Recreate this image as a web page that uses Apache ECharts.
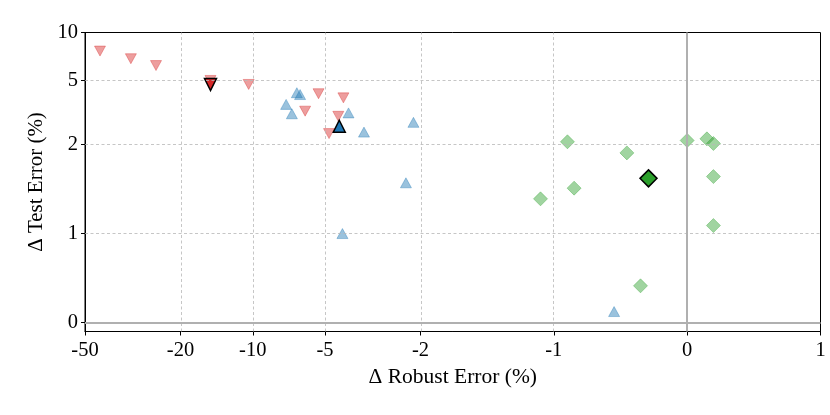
<!DOCTYPE html>
<html>
<head>
<meta charset="utf-8">
<script src="https://cdn.jsdelivr.net/npm/echarts@6/dist/echarts.min.js"></script>
<style>html,body{margin:0;padding:0;background:#fff}#c{width:830px;height:415px}</style>
</head>
<body>
<div id="c"></div>
<script>
// ---- data (raw values) ----
const xTicks = [-50, -20, -10, -5, -2, -1, 0, 1];
const yTicks = [0, 1, 2, 5, 10];
const xGrid = [-20, -10, -5, -2, -1];
const yGrid = [1, 2, 5];

const redX = [-43.3, -32.2, -25.3, -15.0, -10.4, -5.32, -6.05, -4.19, -4.40, -4.81];
const redY = [7.66, 6.86, 6.22, 5.02, 4.74, 4.15, 3.23, 3.91, 3.0, 2.34];
const redBest = [-15.0, 4.74];

const blueX = [-6.55, -6.35, -7.26, -6.87, -3.99, -3.44, -2.14, -2.30, -4.23, -0.548];
const blueY = [4.21, 4.10, 3.56, 3.11, 3.15, 2.39, 2.75, 1.57, 1.0, 0.124];
const blueBest = [-4.36, 2.60];

const greenX = [-0.898, -0.452, -0.848, -1.10, 0.0, 0.148, 0.197, 0.197, 0.197, -0.35];
const greenY = [2.08, 1.906, 1.51, 1.39, 2.12, 2.17, 2.03, 1.64, 1.09, 0.413];
const greenBest = [-0.29, 1.62];

// ---- symlog transform (linthresh 2, base 10, linscale 1) ----
const LT = 2, C = 1 / (1 - 1 / 10);
function sl(v) {
  const a = Math.abs(v);
  if (a <= LT) return v / LT * C;
  return Math.sign(v) * (C + Math.log10(a / LT));
}
function lab(ticks) {
  return function (val) {
    for (const t of ticks) if (Math.abs(sl(t) - val) < 1e-6) return String(t);
    return '';
  };
}
function pts(xs, ys) { return xs.map((x, i) => [sl(x), sl(ys[i])]); }

const FONT = "'Liberation Serif','Times New Roman',serif";
const RED = '#d62728', BLUE = '#1f77b4', GREEN = '#2ca02c';

const chart = echarts.init(document.getElementById('c'), null, {renderer: 'canvas'});
chart.setOption({
  animation: false,
  backgroundColor: '#fff',
  grid: {left: 85, right: 9.5, top: 32.5, bottom: 83.5, show: true, borderColor: '#000', borderWidth: 1, backgroundColor: 'transparent'},
  xAxis: {
    type: 'value', min: sl(-50), max: sl(1),
    name: 'Δ Robust Error (%)', nameLocation: 'middle', nameGap: 34,
    nameTextStyle: {fontFamily: FONT, fontSize: 21.5, color: '#000'},
    axisLine: {show: true, onZero: false, lineStyle: {color: '#000', width: 1}},
    axisTick: {show: true, inside: false, length: 4, customValues: xTicks.map(sl), lineStyle: {color: '#000'}},
    axisLabel: {show: true, customValues: xTicks.map(sl), formatter: lab(xTicks), fontFamily: FONT, fontSize: 20.5, color: '#000', margin: 9},
    splitLine: {show: false}
  },
  yAxis: {
    type: 'value', min: sl(-0.1), max: sl(10),
    name: 'Δ Test Error (%)', nameLocation: 'middle', nameGap: 37, nameRotate: 90,
    nameTextStyle: {fontFamily: FONT, fontSize: 21, color: '#000'},
    axisLine: {show: true, onZero: false, lineStyle: {color: '#000', width: 1}},
    axisTick: {show: true, inside: false, length: 4, customValues: yTicks.map(sl), lineStyle: {color: '#000'}},
    axisLabel: {show: true, customValues: yTicks.map(sl), formatter: lab(yTicks), fontFamily: FONT, fontSize: 20.5, color: '#000', margin: 7},
    splitLine: {show: false}
  },
  series: [
    {
      type: 'scatter', data: [], z: 1, silent: true,
      markLine: {
        silent: true, symbol: 'none', label: {show: false}, animation: false,
        lineStyle: {color: '#b8b8b8', width: 0.8, type: [3, 2.5]},
        data: xGrid.map(v => ({xAxis: sl(v)})).concat(yGrid.map(v => ({yAxis: sl(v)})))
      }
    },
    {
      type: 'scatter', data: [], z: 1, silent: true,
      markLine: {
        silent: true, symbol: 'none', label: {show: false}, animation: false,
        lineStyle: {color: '#b0b0b0', width: 2, type: 'solid'},
        data: [{xAxis: sl(0)}, {yAxis: sl(0)}]
      }
    },
    {type: 'scatter', z: 3, data: pts(redX, redY), symbol: 'triangle', symbolRotate: 180, symbolSize: [11, 10],
      itemStyle: {color: RED, opacity: 0.45, borderColor: RED, borderWidth: 0.8}},
    {type: 'scatter', z: 3, data: pts(blueX, blueY), symbol: 'triangle', symbolSize: [11, 10],
      itemStyle: {color: BLUE, opacity: 0.45, borderColor: BLUE, borderWidth: 0.8}},
    {type: 'scatter', z: 3, data: pts(greenX, greenY), symbol: 'diamond', symbolSize: [14, 14],
      itemStyle: {color: GREEN, opacity: 0.45, borderColor: GREEN, borderWidth: 0.8}},
    {type: 'scatter', z: 4, data: pts([redBest[0]], [redBest[1]]), symbol: 'triangle', symbolRotate: 180, symbolSize: [12, 12],
      itemStyle: {color: RED, opacity: 1, borderColor: '#000', borderWidth: 1.5}},
    {type: 'scatter', z: 4, data: pts([blueBest[0]], [blueBest[1]]), symbol: 'triangle', symbolSize: [12, 12],
      itemStyle: {color: BLUE, opacity: 1, borderColor: '#000', borderWidth: 1.5}},
    {type: 'scatter', z: 4, data: pts([greenBest[0]], [greenBest[1]]), symbol: 'diamond', symbolSize: [17, 17],
      itemStyle: {color: GREEN, opacity: 1, borderColor: '#000', borderWidth: 1.5}}
  ]
});
</script>
</body>
</html>
